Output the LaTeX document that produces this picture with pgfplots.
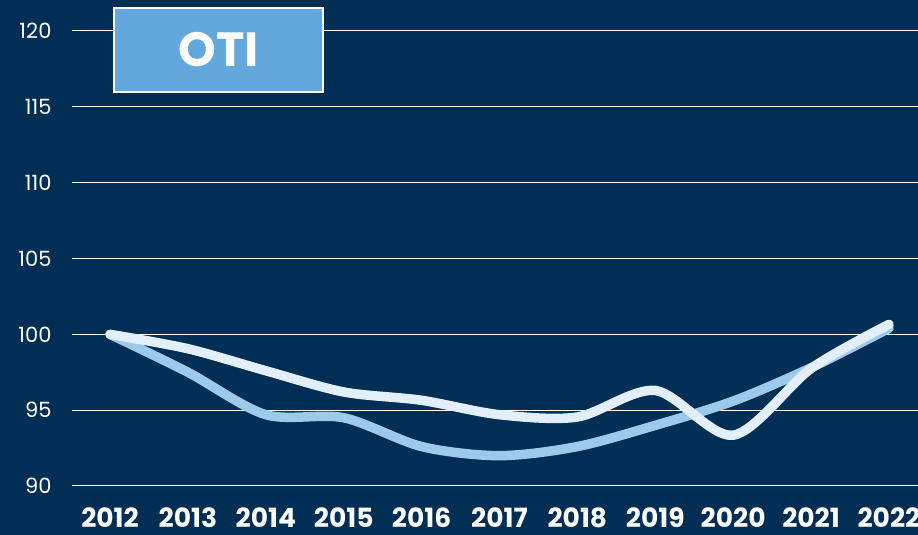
\documentclass[border=0pt]{standalone}
\usepackage{fontspec}
\setmainfont{Poppins}
\usepackage{pgfplots}
\pgfplotsset{compat=1.18}
\definecolor{navy}{HTML}{002E55}
\definecolor{lineblue}{HTML}{9CCAEA}
\definecolor{linewhite}{HTML}{E2EEF9}
\definecolor{boxblue}{HTML}{62A8DC}

\begin{document}
\begin{tikzpicture}[x=1pt,y=1pt]
\useasboundingbox (0,0) rectangle (918,535);
\fill[navy] (0,0) rectangle (918,535);
\begin{scope}
\clip (0,0) rectangle (918,535);
\begin{axis}[
  at={(72pt,49pt)}, anchor=south west,
  scale only axis, width=846pt, height=455pt,
  xmin=2011.512, xmax=2022.372,
  ymin=90, ymax=120,
  xtick={2012,...,2022}, ytick={90,95,...,120},
  axis line style={draw=none},
  major tick length=0pt,
  ymajorgrids, grid style={white, line width=1pt},
  /pgf/number format/1000 sep={},
  /pgf/number format/assume math mode=true,
  xticklabel style={text=white, font=\fontsize{26.5}{30}\selectfont\bfseries, yshift=-18pt},
  yticklabel style={text=white, font=\fontsize{21}{24}\selectfont, xshift=-17pt},
]
  % light blue series
  \addplot[lineblue, line width=9.5pt, line cap=round, smooth, tension=0.5]
    coordinates {(2012,100)(2013,97.5)(2014,94.7)(2015,94.5)(2016,92.6)(2017,92.0)
                 (2018,92.6)(2019,94.0)(2020,95.6)(2021,97.8)(2022,100.4)};
  % white series
  \addplot[linewhite, line width=9.5pt, line cap=round, smooth, tension=0.5]
    coordinates {(2012,100)(2013,99.05)(2014,97.6)(2015,96.2)(2016,95.65)(2017,94.7)
                 (2018,94.55)(2019,96.3)(2020,93.35)(2021,97.75)(2022,100.66)};
\end{axis}
\end{scope}
\node[draw=white, line width=2pt, fill=boxblue, minimum width=209pt, minimum height=84pt,
      inner sep=0pt, text=white, font=\fontsize{48}{52}\selectfont\bfseries]
  at (218.5,485) {OTI};
\end{tikzpicture}
\end{document}
